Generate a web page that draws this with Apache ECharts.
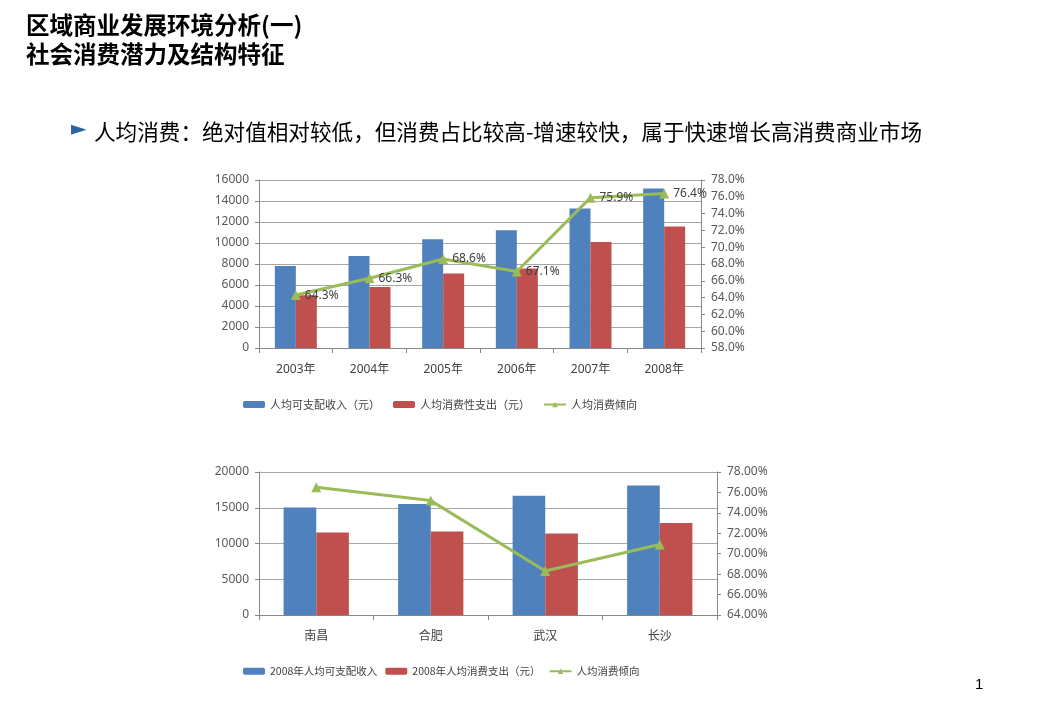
<!DOCTYPE html>
<html>
<head>
<meta charset="utf-8">
<script src="https://cdn.jsdelivr.net/npm/echarts@6/dist/echarts.min.js"></script>
<style>
html,body{margin:0;padding:0;background:#fff;}
#main{width:1040px;height:720px;}
</style>
</head>
<body>
<div id="main"></div>
<script>
// ---- data ----
const years = ['2003年', '2004年', '2005年', '2006年', '2007年', '2008年'];
const income1 = [7810, 8760, 10350, 11210, 13280, 15180];
const spend1 = [5020, 5810, 7090, 7560, 10090, 11560];
const ratio1 = [64.3, 66.3, 68.6, 67.1, 75.9, 76.4];

const cities = ['南昌', '合肥', '武汉', '长沙'];
const income2 = [15040, 15520, 16680, 18120];
const spend2 = [11540, 11680, 11400, 12850];
const ratio2 = [76.5, 75.2, 68.3, 70.9];

const legendNames1 = ['人均可支配收入（元）', '人均消费性支出（元）', '人均消费倾向'];
const legendNames2 = ['2008年人均可支配收入', '2008年人均消费支出（元）', '人均消费倾向 '];

const titleLines = ['区域商业发展环境分析(一)', '社会消费潜力及结构特征'];
const subtitle = '人均消费：绝对值相对较低，但消费占比较高-增速较快，属于快速增长高消费商业市场';
const pageNo = '1';

// ---- styles ----
const FONT = '"Noto Sans", "Noto Sans CJK SC", sans-serif';
const BLUE = '#4F81BD', RED = '#C0504D', GREEN = '#9BBB59';
const AXIS = '#868686', GRID = '#A6A6A6', LABEL = '#595959';

function valAxis(grid, min, max, interval, fmt, pos, split) {
  return {
    type: 'value', gridIndex: grid, min: min, max: max, interval: interval, position: pos,
    axisLine: {show: true, lineStyle: {color: AXIS, width: 1}},
    axisTick: {show: true, length: 4, lineStyle: {color: AXIS}},
    splitLine: {show: split, lineStyle: {color: GRID, width: 1}},
    axisLabel: {color: LABEL, fontSize: 12, fontFamily: FONT, margin: 10, formatter: fmt}
  };
}
function catAxis(grid, data) {
  return {
    type: 'category', gridIndex: grid, data: data, boundaryGap: true,
    axisLine: {show: true, lineStyle: {color: AXIS, width: 1}},
    axisTick: {show: true, length: 5, lineStyle: {color: AXIS}},
    axisLabel: {color: '#404040', fontSize: 12, fontFamily: FONT, margin: 16}
  };
}

const chart = echarts.init(document.getElementById('main'), null, {renderer: 'canvas'});
chart.setOption({
  backgroundColor: '#fff',
  animation: false,
  title: [
    {text: titleLines.join('\n'), left: 21, top: 6,
     textStyle: {fontSize: 23.5, fontWeight: 'bold', color: '#000', fontFamily: '"Noto Sans CJK SC", sans-serif', lineHeight: 29}},
    {text: '►', left: 66, top: 115, textStyle: {fontSize: 20, color: '#2A64A4', fontWeight: 'normal', fontFamily: '"DejaVu Sans", sans-serif'}},
    {text: subtitle, left: 89, top: 116,
     textStyle: {fontSize: 21.6, fontWeight: 'normal', color: '#000', fontFamily: '"Noto Sans CJK SC", sans-serif'}},
    {text: pageNo, left: 970, top: 672, textStyle: {fontSize: 15, fontWeight: 'normal', color: '#000', fontFamily: '"Liberation Sans", sans-serif'}}
  ],
  legend: [
    {data: legendNames1, left: 238, top: 394, itemWidth: 22, itemHeight: 7, itemGap: 13,
     textStyle: {fontSize: 11, color: '#404040', fontFamily: '"Noto Sans CJK SC", sans-serif'}},
    {data: legendNames2, left: 238, top: 661, itemWidth: 22, itemHeight: 7, itemGap: 8,
     textStyle: {fontSize: 10.5, color: '#404040', fontFamily: '"Noto Sans CJK SC", sans-serif'}}
  ],
  grid: [
    {left: 259, top: 180, width: 442, height: 168},
    {left: 259, top: 472, width: 458, height: 143}
  ],
  xAxis: [catAxis(0, years), catAxis(1, cities)],
  yAxis: [
    valAxis(0, 0, 16000, 2000, v => String(v), 'left', true),
    valAxis(0, 58, 78, 2, v => v.toFixed(1) + '%', 'right', false),
    valAxis(1, 0, 20000, 5000, v => String(v), 'left', true),
    valAxis(1, 64, 78, 2, v => v.toFixed(2) + '%', 'right', false)
  ],
  series: [
    {name: legendNames1[0], type: 'bar', xAxisIndex: 0, yAxisIndex: 0, data: income1,
     itemStyle: {color: BLUE}, barGap: '0%', barCategoryGap: '43%'},
    {name: legendNames1[1], type: 'bar', xAxisIndex: 0, yAxisIndex: 0, data: spend1,
     itemStyle: {color: RED}, barGap: '0%', barCategoryGap: '43%'},
    {name: legendNames1[2], type: 'line', xAxisIndex: 0, yAxisIndex: 1, data: ratio1,
     symbol: 'triangle', symbolSize: 10, lineStyle: {color: GREEN, width: 3}, itemStyle: {color: GREEN},
     label: {show: true, position: 'right', distance: 4, color: '#404040', fontSize: 12, fontFamily: FONT,
             formatter: p => p.value.toFixed(1) + '%'}},
    {name: legendNames2[0], type: 'bar', xAxisIndex: 1, yAxisIndex: 2, data: income2,
     itemStyle: {color: BLUE}, barGap: '0%', barCategoryGap: '43%'},
    {name: legendNames2[1], type: 'bar', xAxisIndex: 1, yAxisIndex: 2, data: spend2,
     itemStyle: {color: RED}, barGap: '0%', barCategoryGap: '43%'},
    {name: legendNames2[2], type: 'line', xAxisIndex: 1, yAxisIndex: 3, data: ratio2,
     symbol: 'triangle', symbolSize: 10, lineStyle: {color: GREEN, width: 3}, itemStyle: {color: GREEN}}
  ]
});
</script>
</body>
</html>
